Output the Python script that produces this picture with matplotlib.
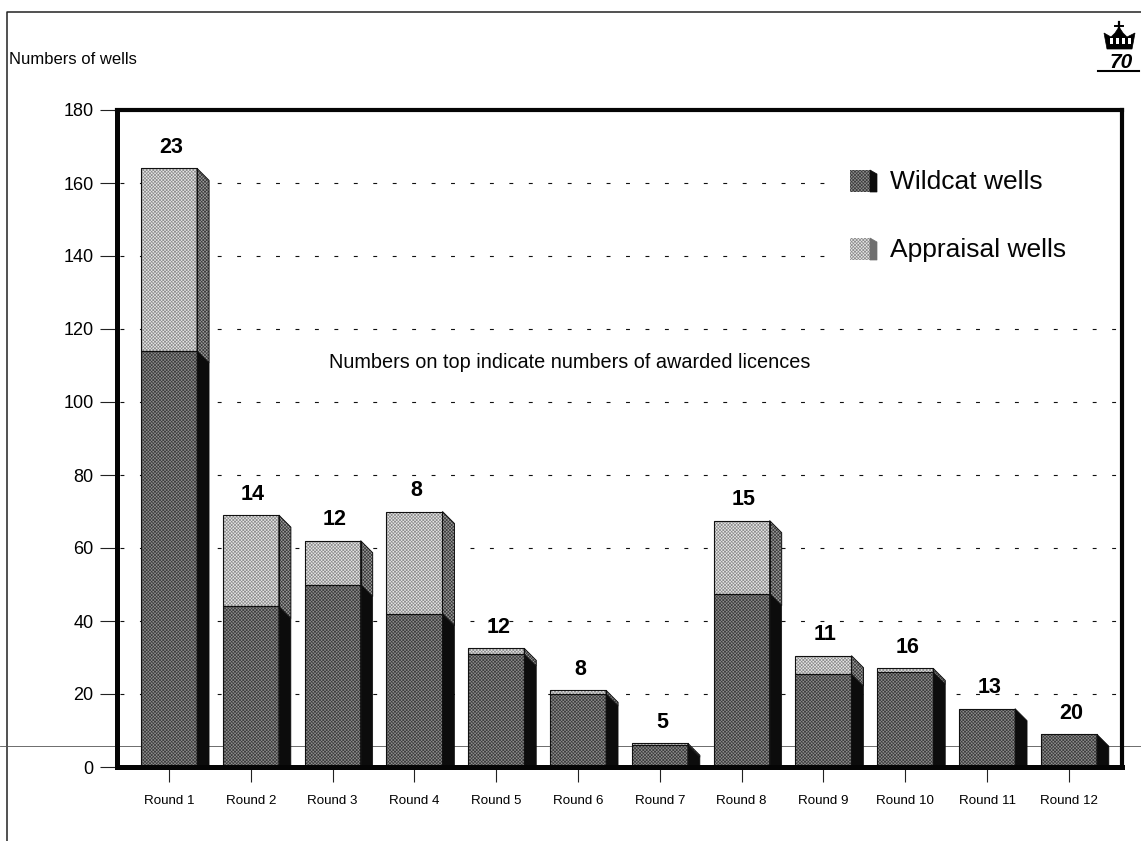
import matplotlib
matplotlib.use("Agg")
import matplotlib.pyplot as plt
from matplotlib.lines import Line2D
from matplotlib.patches import Polygon, Rectangle

plt.rcParams['font.family'] = ['Liberation Sans', 'DejaVu Sans']
plt.rcParams['hatch.linewidth'] = 0.5

# Wells drilled per licensing round
rounds = ["Round 1", "Round 2", "Round 3", "Round 4", "Round 5", "Round 6",
          "Round 7", "Round 8", "Round 9", "Round 10", "Round 11", "Round 12"]
wildcat = [114, 44, 50, 42, 31, 20, 6, 47.5, 25.5, 26, 16, 9]
appraisal = [50, 25, 12, 28, 1.5, 1, 0.5, 20, 5, 1, 0, 0]
licences = [23, 14, 12, 8, 12, 8, 5, 15, 11, 16, 13, 20]
y_ticks = [0, 20, 40, 60, 80, 100, 120, 140, 160, 180]

W, H = 1141, 841
BAR_W = 0.685
DX, DY = 0.147, 3.3
HATCH = 'x' * 10

WILD_FACE, WILD_DOT = '#8e8e8e', '#3c3c3c'
APPR_FACE, APPR_DOT = '#e8e8e8', '#8e8e8e'
SIDE_FACE, SIDE_DOT = '#9c9c9c', '#3c3c3c'

fig = plt.figure(figsize=(W / 100, H / 100), dpi=100, facecolor='white')
ax = fig.add_axes([117 / W, 1 - 767 / H, (1122 - 117) / W, (767 - 110) / H])
ax.patch.set_alpha(0)
ax.set_xlim(-0.636, 11.65)
ax.set_ylim(0, 180)


def to_fig(x, y):
    return x / W, 1 - y / H


# Page frame and the thin horizontal rule behind the plot
fig.add_artist(Line2D([7 / W, 7 / W, 1], [0, 1 - 12 / H, 1 - 12 / H],
                      color='#222222', lw=1.1, zorder=-2))
fig.add_artist(Line2D([0, 1], [1 - 746 / H, 1 - 746 / H],
                      color='#555555', lw=0.6, zorder=-2))

# Dotted grid, broken off where the legend sits
for v in y_ticks[1:-1]:
    x_end = 8.05 if v >= 140 else 11.6
    ax.plot([-0.6, x_end], [v, v], color='#111111', lw=0.8,
            dashes=(3.5, 14), zorder=1)


def draw_side(x, low, high, face, dot):
    right = x + BAR_W / 2
    pts = [(right, max(low, 0)), (right + DX, max(low - DY, 0)),
           (right + DX, high - DY), (right, high)]
    ax.add_patch(Polygon(pts, facecolor=face, edgecolor=dot, hatch=HATCH,
                         lw=0, zorder=3))
    ax.add_patch(Polygon(pts, fill=False, edgecolor='#111111', lw=0.7, zorder=4))


def draw_front(x, low, height, face, dot):
    ax.bar(x, height, BAR_W, bottom=low, color=face, edgecolor=dot,
           hatch=HATCH, lw=0, zorder=3)
    ax.bar(x, height, BAR_W, bottom=low, fill=False, edgecolor='#111111',
           lw=0.8, zorder=4)


positions = range(len(rounds))
for i in positions:
    total = wildcat[i] + appraisal[i]
    draw_front(i, 0, wildcat[i], WILD_FACE, WILD_DOT)
    ax.add_patch(Polygon([(i + BAR_W / 2, 0), (i + BAR_W / 2 + DX, 0),
                          (i + BAR_W / 2 + DX, wildcat[i] - DY),
                          (i + BAR_W / 2, wildcat[i])],
                         facecolor='#0c0c0c', edgecolor='#0c0c0c', lw=0.5, zorder=3))
    if appraisal[i] > 0:
        draw_front(i, wildcat[i], appraisal[i], APPR_FACE, APPR_DOT)
        draw_side(i, wildcat[i], total, SIDE_FACE, SIDE_DOT)
    # Number of awarded licences above each bar
    ax.annotate(str(licences[i]), (i, total), xytext=(1.5, 7.5), textcoords='offset points',
                ha='center', va='bottom', fontsize=15.5, fontweight='bold',
                color='black', zorder=6)

ax.set_xticks(list(positions))
ax.set_xticklabels(rounds, fontsize=9.6)
ax.set_yticks(y_ticks)
ax.tick_params(axis='x', length=11, width=0.8, pad=9, color='#222222')
ax.tick_params(axis='y', length=12, width=0.8, pad=5, labelsize=13, color='#222222')
for name, spine in ax.spines.items():
    spine.set_linewidth(3.6 if name in ('left', 'bottom') else 3.0)
    spine.set_color('#050505')
    spine.set_zorder(5)

fig.text(570 / W, 1 - 362 / H, "Numbers on top indicate numbers of awarded licences",
         fontsize=14.3, ha='center', va='center', color='#050505')
fig.text(9 / W, 1 - 60 / H, "Numbers of wells", fontsize=12, ha='left', va='center',
         color='#050505')


# Legend swatches with the same two-tone block look as the bars
def legend_entry(top, label, face, dot, side):
    x0, x1, side_w, h = 850, 870, 7, 22
    bx, by = to_fig(x0, top + h)
    fig.add_artist(Rectangle((bx, by), (x1 - x0) / W, h / H, transform=fig.transFigure,
                             facecolor=face, edgecolor=dot, hatch=HATCH, lw=0))
    fig.add_artist(Polygon([to_fig(x1, top), to_fig(x1 + side_w, top + 4),
                            to_fig(x1 + side_w, top + h), to_fig(x1, top + h)],
                           transform=fig.transFigure, facecolor=side, edgecolor=side, lw=0.5))
    fig.text(890 / W, 1 - (top + 12) / H, label, fontsize=19, ha='left', va='center',
             color='#050505')


legend_entry(170, "Wildcat wells", WILD_FACE, WILD_DOT, '#0c0c0c')
legend_entry(238, "Appraisal wells", APPR_FACE, APPR_DOT, '#6f6f6f')

# Small crown emblem in the page corner
crown = [(1104, 33), (1111, 37), (1115, 33), (1119, 27), (1123, 33), (1127, 37),
         (1135, 33), (1132, 49), (1107, 49)]
fig.add_artist(Polygon([to_fig(*p) for p in crown], transform=fig.transFigure,
                       facecolor='black', edgecolor='black', lw=0.5))
for x_pos in (1110, 1116, 1122, 1128):
    bx, by = to_fig(x_pos, 44)
    fig.add_artist(Rectangle((bx, by), 2.5 / W, 6 / H, transform=fig.transFigure,
                             facecolor='white', lw=0))
fig.add_artist(Line2D([1119 / W, 1119 / W], [1 - 22 / H, 1 - 31 / H], color='black', lw=1.6))
fig.add_artist(Line2D([1115 / W, 1123 / W], [1 - 26 / H, 1 - 26 / H], color='black', lw=1.4))
fig.text(1121 / W, 1 - 62 / H, "70", fontsize=15, fontweight='bold', fontstyle='italic',
         ha='center', va='center', color='black')
fig.add_artist(Line2D([1098 / W, 1139 / W], [1 - 71 / H, 1 - 71 / H], color='black', lw=1.5))

fig.savefig('out.png', dpi=100)
